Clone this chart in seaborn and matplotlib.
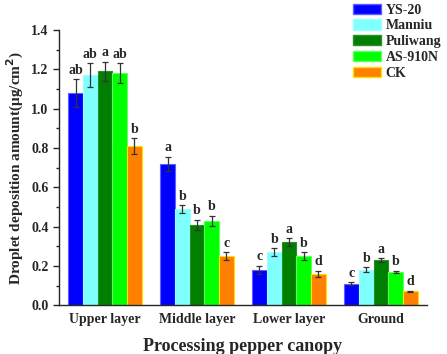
import pandas as pd
import matplotlib.pyplot as plt
import seaborn as sns
from matplotlib.ticker import MultipleLocator

layers = ["Upper layer", "Middle layer", "Lower layer", "Ground"]
varieties = ["YS-20", "Manniu", "Puliwang", "AS-910N", "CK"]

# mean deposition per variety, in layer order
means = {
    "YS-20":    [1.08, 0.72, 0.18, 0.11],
    "Manniu":   [1.17, 0.49, 0.27, 0.18],
    "Puliwang": [1.19, 0.41, 0.32, 0.23],
    "AS-910N":  [1.18, 0.43, 0.25, 0.17],
    "CK":       [0.81, 0.25, 0.16, 0.07],
}
errors = {
    "YS-20":    [0.07, 0.035, 0.02, 0.008],
    "Manniu":   [0.06, 0.02, 0.02, 0.012],
    "Puliwang": [0.05, 0.025, 0.02, 0.01],
    "AS-910N":  [0.05, 0.025, 0.02, 0.006],
    "CK":       [0.04, 0.02, 0.015, 0.004],
}
letters = {
    "YS-20":    ["ab", "a", "c", "c"],
    "Manniu":   ["ab", "b", "b", "b"],
    "Puliwang": ["a", "b", "a", "a"],
    "AS-910N":  ["ab", "b", "b", "b"],
    "CK":       ["b", "c", "d", "d"],
}

colors = {"YS-20": "#0000FF", "Manniu": "#80FFFF", "Puliwang": "#007F00",
          "AS-910N": "#00FF00", "CK": "#FF8000"}
edges = {"YS-20": "#6060FF", "Manniu": "#A0FFFF", "Puliwang": "#2A8F2A",
         "AS-910N": "#60FF60", "CK": "#FFE000"}

rows = []
for v in varieties:
    for i, layer in enumerate(layers):
        rows.append({"layer": layer, "variety": v, "value": means[v][i],
                     "err": errors[v][i], "letter": letters[v][i]})
df = pd.DataFrame(rows)

sns.set_style("ticks")
plt.rcParams["font.family"] = ["Liberation Serif", "DejaVu Serif"]
plt.rcParams["font.weight"] = "bold"

fig = plt.figure(figsize=(4.47, 3.54), dpi=100)
ax = fig.add_axes([0.132, 0.138, 0.823, 0.777])

sns.barplot(data=df, x="layer", y="value", hue="variety", order=layers,
            hue_order=varieties, palette=colors, width=0.8, ax=ax,
            errorbar=None, saturation=1, legend=False)

for container, v in zip(ax.containers, varieties):
    for bar, (_, r) in zip(container, df[df.variety == v].iterrows()):
        bar.set_edgecolor(edges[v])
        bar.set_linewidth(0.8)
        xc = bar.get_x() + bar.get_width() / 2
        ax.errorbar(xc, r.value, yerr=r.err, color="#333333", lw=0.9,
                    capsize=2.5, capthick=0.9)
        ax.text(xc, r.value + r.err + 0.012, r.letter, ha="center",
                va="bottom", fontsize=10, fontweight="bold")

ax.set_xlim(-0.5, 3.5)
ax.set_ylim(0, 1.4)
ax.yaxis.set_major_locator(MultipleLocator(0.2))
ax.yaxis.set_minor_locator(MultipleLocator(0.1))
ax.yaxis.set_major_formatter(plt.FormatStrFormatter("%.1f"))
ax.tick_params(axis="y", which="major", length=4, width=1, labelsize=10)
ax.tick_params(axis="y", which="minor", length=2, width=1)
ax.tick_params(axis="x", length=0, labelsize=10, pad=6)
for lab in ax.get_xticklabels() + ax.get_yticklabels():
    lab.set_fontweight("bold")
sns.despine(ax=ax)
ax.spines["left"].set_linewidth(1)
ax.spines["bottom"].set_linewidth(1)

ax.set_xlabel("Processing pepper canopy", fontsize=13, fontweight="bold",
              labelpad=8)
ax.set_ylabel("Droplet deposition amount(\u03bcg/cm$^{\\mathbf{2}}$)",
              fontsize=11, fontweight="bold", labelpad=4)

handles = [plt.Rectangle((0, 0), 1, 1, facecolor=colors[v], edgecolor=edges[v])
           for v in varieties]
fig.legend(handles, varieties, loc="upper right", bbox_to_anchor=(1.015, 1.025),
           frameon=False, handlelength=2.0, handleheight=0.75,
           labelspacing=0.2, handletextpad=0.35, prop={"weight": "bold", "size": 10})

fig.savefig("out.png", dpi=100)
